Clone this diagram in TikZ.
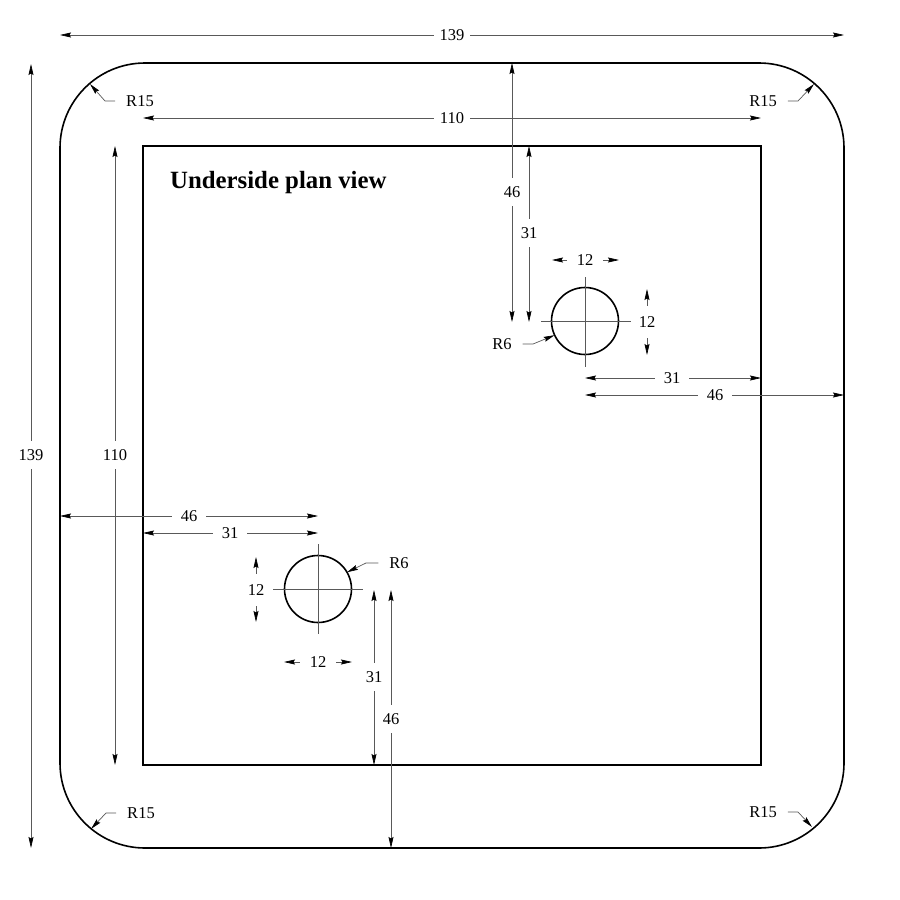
\documentclass[tikz,border=0pt]{standalone}
\usepackage{fontspec}
\setmainfont{Liberation Serif}
\usetikzlibrary{arrows.meta}

\begin{document}
\begin{tikzpicture}[x=1pt,y=-1pt]

\tikzset{outline/.style = {shape=rectangle,draw,line width=1.6pt,inner sep=0pt,outer sep=0pt}}
\tikzset{hole/.style = {shape=circle,draw,line width=1.6pt,inner sep=0pt,outer sep=0pt,minimum size=67pt}}
\tikzset{centerline/.style = {line width=0.7pt,black!65}}
\tikzset{dim/.style = {->,>={Stealth[length=11pt,width=5pt,inset=1.5pt,black]},line width=0.7pt,black!65}}
\tikzset{dimlabel/.style = {text=black,font=\fontsize{16.5}{18}\selectfont,inner xsep=9pt,inner ysep=8.5pt,outer sep=0pt}}
\tikzset{dimwide/.style = {dimlabel,inner xsep=6pt}}
\tikzset{dimshort/.style = {dimlabel,inner xsep=10pt,inner ysep=11pt}}
\tikzset{radlabel/.style = {dimlabel,inner xsep=11pt,inner ysep=2pt}}

\useasboundingbox (0,0) rectangle (900,900);

%plate
\node[outline, rounded corners=85pt, minimum width=784pt, minimum height=785pt] (plate) at (452,455.5) {};
\node[outline, minimum width=618pt, minimum height=619pt] (recess) at (452,455.5) {};
\node[hole] (holeA) at (585,321) {};
\node[hole] (holeB) at (318,589) {};
\node[font=\fontsize{24.8}{26}\selectfont\bfseries, anchor=west, inner sep=0pt] (title) at (170,183) {Underside plan view};

%center lines
\coordinate (holeAw) at (541,321);
\coordinate (holeAe) at (631,321);
\coordinate (holeAn) at (585,277);
\coordinate (holeAs) at (585,367);
\coordinate (holeBw) at (273,589);
\coordinate (holeBe) at (363,589);
\coordinate (holeBn) at (318,544);
\coordinate (holeBs) at (318,634);
\draw[centerline] (holeAw) -- (holeAe);
\draw[centerline] (holeAn) -- (holeAs);
\draw[centerline] (holeBw) -- (holeBe);
\draw[centerline] (holeBn) -- (holeBs);

%outer and recess sizes
\node[dimwide] (d139h) at (452,35) {139};
\coordinate (d139hl) at (60,35);
\coordinate (d139hr) at (844,35);
\draw[dim] (d139h) -- (d139hl);
\draw[dim] (d139h) -- (d139hr);
\node[dimwide] (d110h) at (452,118) {110};
\coordinate (d110hl) at (143,118);
\coordinate (d110hr) at (761,118);
\draw[dim] (d110h) -- (d110hl);
\draw[dim] (d110h) -- (d110hr);
\node[dimlabel] (d139v) at (31,455) {139};
\coordinate (d139vt) at (31,64);
\coordinate (d139vb) at (31,848);
\draw[dim] (d139v) -- (d139vt);
\draw[dim] (d139v) -- (d139vb);
\node[dimlabel] (d110v) at (115,455) {110};
\coordinate (d110vt) at (115,146);
\coordinate (d110vb) at (115,765);
\draw[dim] (d110v) -- (d110vt);
\draw[dim] (d110v) -- (d110vb);

%upper hole position
\node[dimlabel] (a46v) at (512,192) {46};
\coordinate (a46vt) at (512,63);
\coordinate (a46vb) at (512,322);
\draw[dim] (a46v) -- (a46vt);
\draw[dim] (a46v) -- (a46vb);
\node[dimlabel] (a31v) at (529,233) {31};
\coordinate (a31vt) at (529,146);
\coordinate (a31vb) at (529,322);
\draw[dim] (a31v) -- (a31vt);
\draw[dim] (a31v) -- (a31vb);
\node[dimlabel] (a31h) at (672,378) {31};
\coordinate (a31hl) at (585,378);
\coordinate (a31hr) at (761,378);
\draw[dim] (a31h) -- (a31hl);
\draw[dim] (a31h) -- (a31hr);
\node[dimlabel] (a46h) at (715,395) {46};
\coordinate (a46hl) at (585,395);
\coordinate (a46hr) at (844,395);
\draw[dim] (a46h) -- (a46hl);
\draw[dim] (a46h) -- (a46hr);

%upper hole size
\node[dimshort] (a12h) at (585,260) {12};
\coordinate (a12hl) at (552,260);
\coordinate (a12hr) at (619,260);
\draw[dim] (a12h) -- (a12hl);
\draw[dim] (a12h) -- (a12hr);
\node[dimshort] (a12v) at (647,322) {12};
\coordinate (a12vt) at (647,289);
\coordinate (a12vb) at (647,355);
\draw[dim] (a12v) -- (a12vt);
\draw[dim] (a12v) -- (a12vb);

%lower hole position
\node[dimlabel] (b46h) at (189,516) {46};
\coordinate (b46hl) at (60,516);
\coordinate (b46hr) at (318,516);
\draw[dim] (b46h) -- (b46hl);
\draw[dim] (b46h) -- (b46hr);
\node[dimlabel] (b31h) at (230,533) {31};
\coordinate (b31hl) at (143,533);
\coordinate (b31hr) at (318,533);
\draw[dim] (b31h) -- (b31hl);
\draw[dim] (b31h) -- (b31hr);
\node[dimlabel] (b31v) at (374,677) {31};
\coordinate (b31vt) at (374,590);
\coordinate (b31vb) at (374,765);
\draw[dim] (b31v) -- (b31vt);
\draw[dim] (b31v) -- (b31vb);
\node[dimlabel] (b46v) at (391,719) {46};
\coordinate (b46vt) at (391,590);
\coordinate (b46vb) at (391,848);
\draw[dim] (b46v) -- (b46vt);
\draw[dim] (b46v) -- (b46vb);

%lower hole size
\node[dimshort] (b12h) at (318,662) {12};
\coordinate (b12hl) at (284,662);
\coordinate (b12hr) at (352,662);
\draw[dim] (b12h) -- (b12hl);
\draw[dim] (b12h) -- (b12hr);
\node[dimshort] (b12v) at (256,590) {12};
\coordinate (b12vt) at (256,557);
\coordinate (b12vb) at (256,622);
\draw[dim] (b12v) -- (b12vt);
\draw[dim] (b12v) -- (b12vb);

%radii
\node[radlabel] (r15tl) at (140,101) {R15};
\coordinate (r15tlk) at (105,101);
\coordinate (r15tlt) at (90,84);
\draw[dim] (r15tl.west) -- (r15tlk) -- (r15tlt);
\node[radlabel] (r15tr) at (763,101) {R15};
\coordinate (r15trk) at (798,101);
\coordinate (r15trt) at (814,84);
\draw[dim] (r15tr.east) -- (r15trk) -- (r15trt);
\node[radlabel] (r15bl) at (141,813) {R15};
\coordinate (r15blk) at (106,813);
\coordinate (r15blt) at (91,829);
\draw[dim] (r15bl.west) -- (r15blk) -- (r15blt);
\node[radlabel] (r15br) at (763,812) {R15};
\coordinate (r15brk) at (798,812);
\coordinate (r15brt) at (812,827);
\draw[dim] (r15br.east) -- (r15brk) -- (r15brt);
\node[radlabel] (r6a) at (502,344) {R6};
\coordinate (r6ak) at (533,344);
\draw[dim] (r6a.east) -- (r6ak) -- (holeA.205);
\node[radlabel] (r6b) at (399,563) {R6};
\coordinate (r6bk) at (366,563);
\draw[dim] (r6b.west) -- (r6bk) -- (holeB.30);

\end{tikzpicture}
\end{document}
